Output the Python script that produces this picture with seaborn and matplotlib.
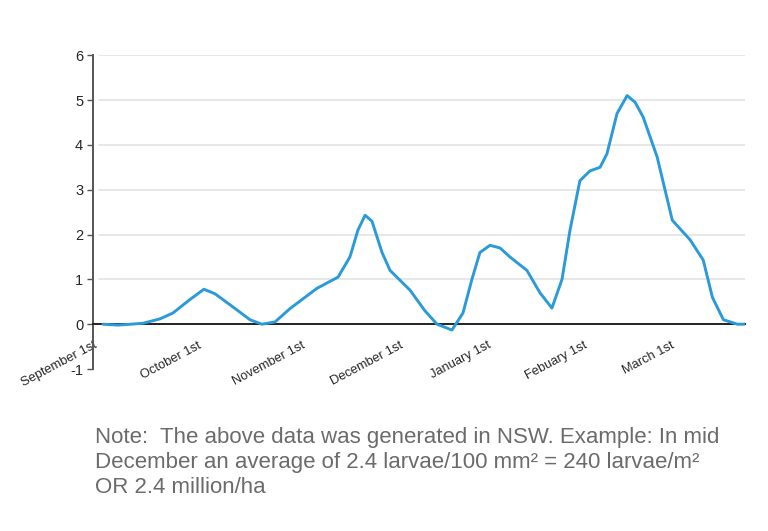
import numpy as np
import pandas as pd
import matplotlib
matplotlib.use("Agg")
import matplotlib.pyplot as plt
import seaborn as sns

# Data (x in weeks from the first point, y = larvae count)
weeks = [0.0, 0.65, 1.74, 2.49, 3.05, 3.79, 4.40, 4.88, 5.76, 6.41, 6.93, 7.50,
         8.16, 9.33, 10.25, 10.77, 11.12, 11.43, 11.73, 12.17, 12.52, 13.39,
         14.04, 14.57, 15.22, 15.70, 16.09, 16.44, 16.88, 17.32, 17.75, 18.49,
         19.06, 19.58, 20.02, 20.37, 20.80, 21.24, 21.68, 21.98, 22.42, 22.86,
         23.21, 23.56, 24.17, 24.83, 25.61, 26.18, 26.58, 27.06, 27.67, 28.0]
larvae = [0.0, -0.02, 0.02, 0.12, 0.25, 0.55, 0.78, 0.68, 0.35, 0.10, 0.0, 0.05,
          0.35, 0.80, 1.05, 1.50, 2.10, 2.43, 2.30, 1.60, 1.20, 0.76,
          0.30, 0.0, -0.13, 0.25, 1.00, 1.60, 1.76, 1.70, 1.50, 1.20,
          0.70, 0.36, 1.00, 2.10, 3.20, 3.42, 3.50, 3.80, 4.70, 5.10,
          4.95, 4.62, 3.73, 2.32, 1.88, 1.43, 0.60, 0.10, 0.0, 0.0]

month_labels = ['September 1st', 'October 1st', 'November 1st', 'December 1st',
                'January 1st', 'Febuary 1st', 'March 1st']
month_pos = [-0.44, 4.15, 8.65, 12.95, 16.75, 20.95, 24.75]
y_ticks = [-1, 0, 1, 2, 3, 4, 5, 6]

note = ("Note:  The above data was generated in NSW. Example: In mid\n"
        "December an average of 2.4 larvae/100 mm\u00b2 = 240 larvae/m\u00b2\n"
        "OR 2.4 million/ha")

df = pd.DataFrame({'week': weeks, 'larvae': larvae})

sns.set_style("white")
plt.rcParams['font.family'] = ['Liberation Sans', 'DejaVu Sans']

fig = plt.figure(figsize=(7.68, 5.31), dpi=100)
ax = fig.add_axes([0.121, 0.305, 0.849, 0.591])

# zero line acts as the x axis (set before ticks: set_position resets them)
ax.spines['bottom'].set_position(('data', 0))
ax.spines['bottom'].set_color('#222222')
ax.spines['bottom'].set_linewidth(1.4)
ax.spines['left'].set_color('#555555')
ax.spines['left'].set_linewidth(1.4)
ax.spines['top'].set_visible(False)
ax.spines['right'].set_visible(False)

for y in y_ticks[2:]:
    ax.axhline(y, xmin=0.01, color='#e3e3e3', lw=1.2, zorder=0)

sns.lineplot(data=df, x='week', y='larvae', ax=ax, color='#2b9ad8', lw=2.1,
             zorder=3, solid_joinstyle='round')

ax.set_yticks(y_ticks)
ax.set_yticklabels([str(v) for v in y_ticks], fontsize=10.5)
ax.tick_params(axis='y', direction='out', length=4, width=1, color='#555555',
               left=True, pad=3)

ax.set_xticks(month_pos)
ax.set_xticklabels(month_labels, fontsize=9.3, rotation=28, ha='right',
                   rotation_mode='anchor')
ax.tick_params(axis='x', length=0, pad=11)
ax.set_xlabel('')
ax.set_ylabel('')
ax.set_xlim(-0.44, 28.0)
ax.set_ylim(-1, 6)

fig.text(0.124, 1 - 427 / 531, note, fontsize=16, color='#6b6b6b', va='top',
         linespacing=1.25)

fig.savefig('out.png', dpi=100)
